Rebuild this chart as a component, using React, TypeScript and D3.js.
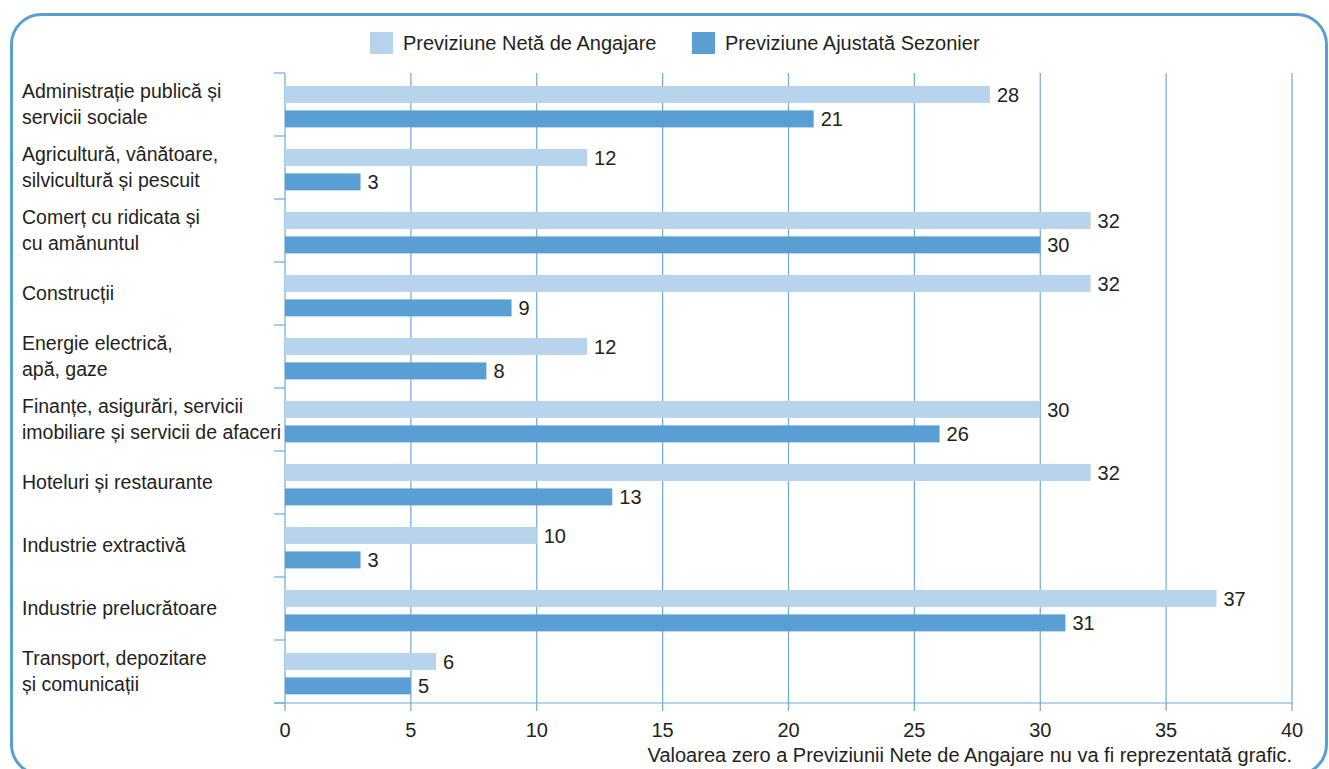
import React, { useEffect, useRef } from 'react';
import * as d3 from 'd3';

// categories, top to bottom (multi-line labels)
const categories = [
  ['Administrație publică și', 'servicii sociale'],
  ['Agricultură, vânătoare,', 'silvicultură și pescuit'],
  ['Comerț cu ridicata și', 'cu amănuntul'],
  ['Construcții'],
  ['Energie electrică,', 'apă, gaze'],
  ['Finanțe, asigurări, servicii', 'imobiliare și servicii de afaceri'],
  ['Hoteluri și restaurante'],
  ['Industrie extractivă'],
  ['Industrie prelucrătoare'],
  ['Transport, depozitare', 'și comunicații'],
];

const netValues = [28, 12, 32, 32, 12, 30, 32, 10, 37, 6];
const adjValues = [21, 3, 30, 9, 8, 26, 13, 3, 31, 5];

const seriesNames = ['Previziune Netă de Angajare', 'Previziune Ajustată Sezonier'];
const xTicks = [0, 5, 10, 15, 20, 25, 30, 35, 40];
const footnote = 'Valoarea zero a Previziunii Nete de Angajare nu va fi reprezentată grafic.';

const W = 1329;
const H = 769;
const LIGHT = '#b8d3ec';
const DARK = '#5a9fd4';
const GRID = '#6fa9d9';
const TEXT = '#231f20';
const FONT = '"Liberation Sans", Arial, sans-serif';
const FS = 20;

export default function App() {
  const ref = useRef<SVGSVGElement>(null);

  useEffect(() => {
    const svg = d3.select(ref.current);
    svg.selectAll('*').remove();

    const keys = categories.map((c) => c.join(' '));
    const x = d3.scaleLinear().domain([0, 40]).range([285, 1292]);
    const y = d3.scaleBand().domain(keys).range([73, 703]).padding(0);
    const sub = d3
      .scaleBand()
      .domain(['net', 'adj'])
      .range([0, y.bandwidth()])
      .paddingInner(0.306)
      .paddingOuter(0.44)
      .align(0.6);

    // outer rounded frame
    svg
      .append('rect')
      .attr('x', 11.5)
      .attr('y', 14.5)
      .attr('width', 1315)
      .attr('height', 760)
      .attr('rx', 30)
      .attr('fill', 'none')
      .attr('stroke', DARK)
      .attr('stroke-width', 3);

    // legend
    const legend = svg.append('g').attr('font-family', FONT).attr('font-size', FS).attr('fill', TEXT);
    const legendX = [370, 692];
    seriesNames.forEach((name, i) => {
      legend
        .append('rect')
        .attr('x', legendX[i])
        .attr('y', 32)
        .attr('width', 23)
        .attr('height', 22)
        .attr('fill', i === 0 ? LIGHT : DARK);
      legend
        .append('text')
        .attr('x', legendX[i] + 33)
        .attr('y', 43)
        .attr('dy', '0.36em')
        .text(name);
    });

    // vertical grid lines
    svg
      .append('g')
      .selectAll('line')
      .data(xTicks)
      .enter()
      .append('line')
      .attr('x1', (d) => x(d))
      .attr('x2', (d) => x(d))
      .attr('y1', 73)
      .attr('y2', 711)
      .attr('stroke', GRID)
      .attr('stroke-width', 1.2);

    // x axis line
    svg
      .append('line')
      .attr('x1', 274)
      .attr('x2', x(40))
      .attr('y1', 703)
      .attr('y2', 703)
      .attr('stroke', GRID)
      .attr('stroke-width', 1.2);

    // category separator ticks on the left
    const seps = keys.map((k) => y(k) as number).concat([703]);
    svg
      .append('g')
      .selectAll('line')
      .data(seps)
      .enter()
      .append('line')
      .attr('x1', 274)
      .attr('x2', x(0))
      .attr('y1', (d) => d)
      .attr('y2', (d) => d)
      .attr('stroke', GRID)
      .attr('stroke-width', 1.2);

    // bars
    const rows = keys.map((k, i) => ({ key: k, net: netValues[i], adj: adjValues[i] }));
    const barG = svg.append('g');
    (['net', 'adj'] as const).forEach((s) => {
      barG
        .selectAll('rect.' + s)
        .data(rows)
        .enter()
        .append('rect')
        .attr('class', s)
        .attr('x', x(0))
        .attr('y', (d) => (y(d.key) as number) + (sub(s) as number))
        .attr('width', (d) => x(d[s]) - x(0))
        .attr('height', sub.bandwidth())
        .attr('fill', s === 'net' ? LIGHT : DARK);
      barG
        .selectAll('text.' + s)
        .data(rows)
        .enter()
        .append('text')
        .attr('class', s)
        .attr('x', (d) => x(d[s]) + 7)
        .attr('y', (d) => (y(d.key) as number) + (sub(s) as number) + sub.bandwidth() / 2)
        .attr('dy', '0.36em')
        .attr('font-family', FONT)
        .attr('font-size', FS)
        .attr('fill', TEXT)
        .text((d) => d[s]);
    });

    // category labels
    const lab = svg.append('g').attr('font-family', FONT).attr('font-size', 19.5).attr('fill', TEXT);
    categories.forEach((lines, i) => {
      const cy = (y(keys[i]) as number) + y.bandwidth() / 2;
      const t = lab.append('text').attr('x', 22);
      const start = cy - ((lines.length - 1) * 26) / 2 - 1;
      lines.forEach((ln, j) => {
        t.append('tspan')
          .attr('x', 22)
          .attr('y', start + j * 26)
          .attr('dy', '0.36em')
          .text(ln);
      });
    });

    // x tick labels
    svg
      .append('g')
      .selectAll('text')
      .data(xTicks)
      .enter()
      .append('text')
      .attr('x', (d) => x(d))
      .attr('y', 730)
      .attr('dy', '0.36em')
      .attr('text-anchor', 'middle')
      .attr('font-family', FONT)
      .attr('font-size', FS)
      .attr('fill', TEXT)
      .text((d) => d);

    // footnote
    svg
      .append('text')
      .attr('x', x(40))
      .attr('y', 755)
      .attr('dy', '0.36em')
      .attr('text-anchor', 'end')
      .attr('font-family', FONT)
      .attr('font-size', FS)
      .attr('fill', TEXT)
      .text(footnote);
  }, []);

  return (
    <div style={{ position: 'absolute', left: 0, top: 0, width: W, height: H, background: '#fff' }}>
      <svg ref={ref} width={W} height={H} style={{ display: 'block' }} />
    </div>
  );
}
